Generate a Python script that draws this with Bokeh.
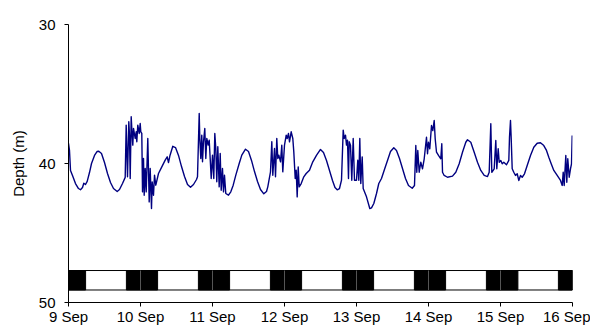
from bokeh.plotting import figure
from bokeh.models import Range1d, FixedTicker
from bokeh.embed import file_html
from bokeh.resources import INLINE

# ---- data ----
tick_labels = ["9 Sep", "10 Sep", "11 Sep", "12 Sep", "13 Sep", "14 Sep", "15 Sep", "16 Sep"]
depth_ticks = [30, 40, 50]

# hours since 9 Sep 00:00
hours = [
    0, 0.33, 0.67, 1.33, 2.33, 3.33, 4.0, 4.67, 5.1, 5.67, 6.23, 7.0, 7.67, 8.67, 9.5, 10.1,
    11.0, 12.0, 13.0, 14.0, 15.0, 16.23, 17.0, 18.0, 18.9, 19.23, 19.67, 20.1, 20.33, 20.57,
    20.9, 21.1, 21.43, 21.67, 22.23, 22.57, 22.77, 23.1, 23.57, 23.9, 24.1, 24.43, 24.67,
    25.0, 25.23, 25.57, 25.9, 26.43, 26.9, 27.23, 27.67, 27.9, 28.33, 28.67, 29.1, 30.0,
    31.1, 32.23, 32.9, 33.33, 33.83, 34.77, 35.67, 36.67, 37.67, 38.67, 39.67, 40.67,
    41.67, 42.67, 43.0, 43.57, 43.77, 44.1, 44.43, 44.67, 45.0, 45.43, 45.77, 46.1, 46.57,
    46.9, 47.23, 47.57, 48.0, 48.43, 48.77, 49.1, 49.43, 49.77, 50.23, 50.57, 50.9, 51.33,
    51.67, 52.0, 52.43, 53.33, 54.1, 54.9, 55.77, 56.9, 57.77, 59.0, 60.0, 61.0, 62.0,
    63.0, 64.0, 65.1, 66.0, 66.43, 67.33, 67.77, 68.1, 68.67, 69.0, 69.43, 69.77, 70.1,
    70.67, 71.1, 71.43, 72.0, 72.57, 72.9, 73.33, 73.67, 74.23, 74.77, 75.1, 75.57, 75.9,
    76.23, 76.57, 76.9, 77.57, 78.43, 79.23, 80.33, 81.43, 82.7, 84.0, 85.0, 86.0, 87.0,
    88.0, 88.83, 89.57, 90.33, 91.0, 91.57, 91.9, 92.33, 92.67, 93.0, 93.33, 93.57, 94.0,
    94.43, 94.9, 95.33, 96.0, 96.43, 96.77, 97.1, 97.43, 97.9, 98.23, 99.33, 100.43,
    101.0, 101.77, 102.67, 103.43, 104.33, 105.43, 106.33, 107.33, 108.43, 109.33, 110.33,
    111.33, 112.33, 113.33, 114.57, 115.33, 115.77, 116.1, 116.43, 116.9, 117.43, 118.0,
    118.57, 119.33, 119.67, 120.0, 120.43, 121.0, 121.43, 121.9, 122.23, 122.67, 123.33,
    124.1, 124.43, 124.67, 125.23, 126.33, 128.0, 129.1, 130.23, 131.33, 132.43, 133.0,
    134.1, 135.23, 136.33, 137.43, 138.57, 139.67, 140.23, 140.77, 141.1, 141.9, 142.43,
    142.77, 143.23, 143.57, 144.1, 144.57, 145.1, 146.0, 146.77, 147.0, 147.33, 147.57,
    147.9, 148.43, 149.0, 149.57, 150.1, 150.67, 151.23, 152.0, 152.9, 154.0, 155.1,
    156.23, 157.33, 158.43, 159.33, 160.1, 160.9, 161.77, 162.9, 164.0, 164.57, 164.9,
    165.23, 165.77, 166.1, 166.43, 166.9, 167.33, 167.67, 167.9,
]
depth_m = [
    38.55, 39.06, 40.5, 40.86, 41.44, 41.8, 41.89, 41.73, 41.42, 41.51, 41.29, 40.65, 40.0, 39.42, 39.14, 39.12,
    39.28, 39.93, 40.72, 41.37, 41.8, 42.01, 41.87, 41.44, 41.0, 37.24, 40.96, 37.0, 37.96, 41.08,
    36.64, 37.48, 38.68, 37.48, 38.2, 37.72, 38.44, 37.24, 37.84, 37.12, 37.72, 37.84, 42.04,
    39.64, 42.28, 40.36, 42.04, 38.2, 42.76, 40.36, 43.24, 41.32, 42.28, 40.84, 41.56, 40.72,
    40.24, 39.76, 39.52, 39.93, 39.42, 38.76, 38.85, 39.42, 40.22, 40.94, 41.51, 41.71,
    41.51, 41.15, 40.96, 36.4, 38.2, 39.64, 37.96, 39.88, 38.44, 37.48, 39.64, 38.2, 38.68,
    38.32, 39.64, 41.08, 39.4, 41.08, 37.84, 38.92, 41.32, 38.8, 41.68, 39.28, 41.92, 40.36,
    42.04, 40.84, 42.16, 42.28, 42.04, 41.56, 40.84, 40.0, 39.4, 38.97, 39.14, 39.78, 40.58,
    41.29, 41.87, 42.18, 42.01, 41.68, 40.6, 38.44, 40.84, 38.92, 40.96, 38.2, 39.64, 39.4,
    39.88, 38.68, 40.6, 38.68, 37.96, 38.2, 37.84, 38.44, 37.72, 38.2, 39.16, 41.08, 40.48,
    42.4, 40.24, 41.68, 41.44, 40.96, 40.72, 40.48, 39.88, 39.4, 38.99, 39.21, 39.78, 40.5,
    41.22, 41.73, 41.89, 41.8, 41.2, 37.6, 38.2, 37.96, 38.68, 38.32, 41.08, 38.44, 38.68,
    41.2, 38.2, 41.2, 41.2, 39.76, 41.2, 38.2, 41.44, 39.52, 41.8, 42.4, 43.24,
    43.19, 42.88, 42.16, 41.44, 41.08, 40.36, 39.78, 39.14, 38.87, 39.06, 39.64,
    40.36, 41.08, 41.58, 41.78, 41.58, 38.71, 40.63, 39.06, 40.63, 39.91, 40.38,
    39.66, 38.11, 39.3, 38.47, 38.94, 37.27, 37.63, 36.91, 38.22, 39.19, 39.42,
    39.66, 38.58, 40.63, 40.86, 40.99, 40.91, 40.63, 40.02, 39.19, 38.47, 38.29,
    38.47, 39.19, 39.91, 40.5, 40.86, 40.94, 40.63, 37.14, 40.63, 40.38, 38.35,
    40.38, 38.94, 39.91, 39.78, 40.02, 39.91, 40.09, 39.78, 38.11, 36.91, 38.22,
    40.38, 40.63, 40.86, 40.74, 41.22, 40.86, 40.99, 40.74, 40.14, 39.42, 38.83,
    38.54, 38.51, 38.71, 39.06, 39.55, 40.02, 40.5, 40.86, 41.22, 41.58, 40.63,
    41.58, 39.42, 41.35, 39.66, 40.99, 40.38, 40.02, 37.99,
]

# night periods (hours since 9 Sep 00:00)
night_start = [0, 19.3, 43.3, 67.3, 91.3, 115.3, 139.3, 163.3]
night_end = [5.7, 29.7, 53.7, 77.7, 101.7, 125.7, 149.8, 168]

# ---- figure ----
FONT = "Liberation Sans"
tick_hours = [24 * i for i in range(len(tick_labels))]
bar_top, bar_bottom = 47.7, 49.1

p = figure(width=590, height=329, output_backend="svg", toolbar_location=None,
           x_range=Range1d(0, 168), y_range=Range1d(50, 30),
           min_border_left=68, min_border_right=18, min_border_top=24, min_border_bottom=27)
p.outline_line_color = None
p.xgrid.visible = False
p.ygrid.visible = False
p.background_fill_color = "white"

# day/night bar
p.quad(left=[0], right=[168], top=[bar_top], bottom=[bar_bottom],
       fill_color="white", line_color="black", line_width=1)
p.quad(left=night_start, right=night_end, top=bar_top, bottom=bar_bottom,
       fill_color="black", line_color="black", line_width=1)
p.segment(x0=tick_hours[1:-1], x1=tick_hours[1:-1], y0=bar_top, y1=bar_bottom,
          line_color="#555555", line_width=1)

# depth trace
p.line(hours, depth_m, line_color="#000080", line_width=1.4, line_join="round")

# axes
p.xaxis.ticker = FixedTicker(ticks=tick_hours)
p.xaxis.major_label_overrides = {h: lab for h, lab in zip(tick_hours, tick_labels)}
p.yaxis.ticker = FixedTicker(ticks=depth_ticks)
p.yaxis.axis_label = "Depth (m)"
for ax in (p.xaxis[0], p.yaxis[0]):
    ax.minor_tick_line_color = None
    ax.major_tick_in = 0
    ax.major_tick_out = 4
    ax.axis_line_color = "black"
    ax.major_tick_line_color = "black"
    ax.major_label_text_font = FONT
    ax.major_label_text_font_size = "15px"
    ax.major_label_text_color = "black"
p.xaxis.major_label_standoff = 1
p.yaxis.major_label_standoff = 9
p.yaxis.axis_label_text_font = FONT
p.yaxis.axis_label_text_font_size = "15px"
p.yaxis.axis_label_text_font_style = "normal"
p.yaxis.axis_label_text_color = "black"
p.yaxis.axis_label_standoff = 9

open("out.html", "w").write(file_html(p, INLINE))
